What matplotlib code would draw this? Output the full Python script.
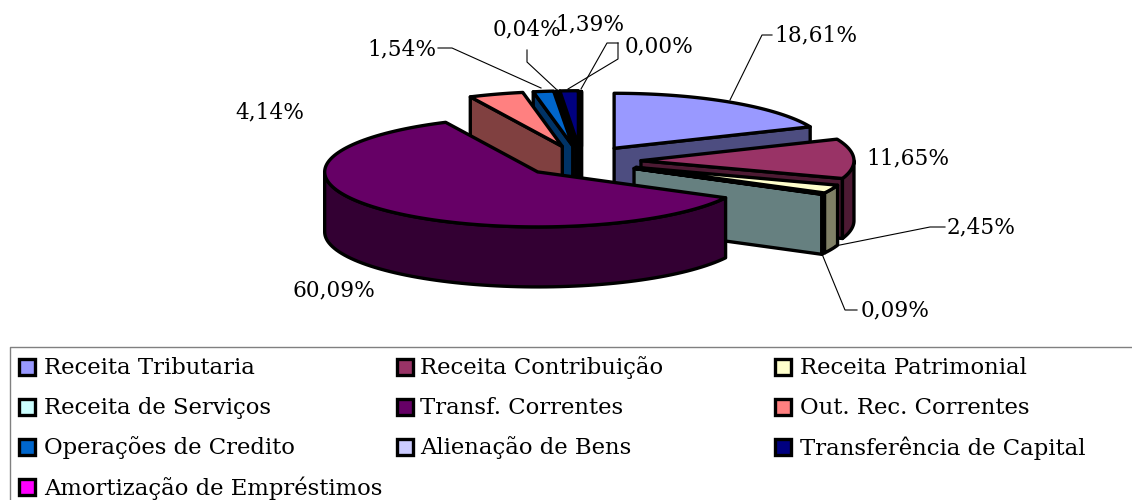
import numpy as np
import matplotlib
matplotlib.use("Agg")
import matplotlib.pyplot as plt
from matplotlib.patches import Polygon, Rectangle

categories = ["Receita Tributaria", "Receita Contribuição", "Receita Patrimonial",
              "Receita de Serviços", "Transf. Correntes", "Out. Rec. Correntes",
              "Operações de Credito", "Alienação de Bens", "Transferência de Capital",
              "Amortização de Empréstimos"]
values = [18.61, 11.65, 2.45, 0.09, 60.09, 4.14, 1.54, 0.04, 1.39, 0.00]
colors = ["#9999FF", "#993366", "#FFFFCC", "#CCFFFF", "#660066",
          "#FF8080", "#0066CC", "#CCCCFF", "#000080", "#FF00FF"]

# label centre x, y and optional leader path, by slice
label_xy = [(816, 35), (908, 158), (981, 227), (895, 310), (334, 290),
            (270, 112), (402, 49), (527, 29), (590, 24), (659, 46)]
leaders = [[(772, 35), (762, 35), (730, 100)], None,
           [(945, 227), (930, 227), (835, 246)],
           [(857, 310), (845, 310), (822, 254)], None, None,
           [(438, 48), (452, 48), (541, 88)],
           [(527, 50), (527, 62), (556, 89)],
           [(618, 43), (618, 59), (568, 89)],
           [(618, 43), (607, 43), (581, 89)]]

CX, CY = 581.0, 161.2
A, B = 213.0, 55.0
EXPLODE, DEPTH = 60.0, 60.0
LW = 2.4
FONT = "DejaVu Serif"
FS_LABEL = 15.6
FS_LEGEND = 16.4

fig = plt.figure(figsize=(11.32, 5.0), dpi=100)
ax = fig.add_axes([0, 0, 1, 1])
ax.set_xlim(0, 1132)
ax.set_ylim(500, 0)
ax.axis("off")


def shade(c):
    r, g, b = matplotlib.colors.to_rgb(c)
    return (r * 0.5, g * 0.5, b * 0.5)


vals = np.array(values)
ends = 90 - np.cumsum(vals) * 3.6
starts = ends + vals * 3.6
mids = (starts + ends) / 2
order = np.argsort(-np.sin(np.radians(mids)), kind="stable")


def poly(pts, fc, z):
    ax.add_patch(Polygon(pts, closed=True, facecolor=fc, edgecolor="black",
                         linewidth=LW, joinstyle="round", zorder=z))


for z, i in enumerate(order):
    t1, t2, m = np.radians(starts[i]), np.radians(ends[i]), np.radians(mids[i])
    ox = CX + EXPLODE * np.cos(m)
    oy = CY - EXPLODE * (B / A) * np.sin(m)
    pt = lambda t, d=0.0: (ox + A * np.cos(t), oy - B * np.sin(t) + d)
    base = z * 10
    dark = shade(colors[i])
    # outer wall: only the part of the arc on the near side (-180..0 degrees)
    lo, hi = max(t2, -np.pi), min(t1, 0.0)
    if hi > lo:
        ts = np.linspace(hi, lo, 80)
        wall = [pt(t) for t in ts] + [pt(t, DEPTH) for t in ts[::-1]]
        poly(wall, dark, base + 2)
    # cut faces
    if np.cos(t2) >= 0:
        poly([(ox, oy), pt(t2), pt(t2, DEPTH), (ox, oy + DEPTH)], dark, base + 1)
    if np.cos(t1) <= 0:
        poly([(ox, oy), pt(t1), pt(t1, DEPTH), (ox, oy + DEPTH)], dark, base + 1)
    # top
    ts = np.linspace(t1, t2, 120)
    poly([(ox, oy)] + [pt(t) for t in ts], colors[i], base + 3)

# labels and leaders
for v, (x, y), path in zip(values, label_xy, leaders):
    ax.text(x, y, f"{v:.2f}%".replace(".", ","), ha="center", va="center",
            family=FONT, fontsize=FS_LABEL, color="black", zorder=200)
    if path:
        ax.plot(*zip(*path), color="black", lw=0.8, zorder=150,
                solid_joinstyle="miter")

# legend
ax.plot([1132, 10, 10], [347, 347, 500], color="#808080", lw=1.0, zorder=190)
col_sw = [19, 397, 775]
col_tx = [44, 420, 800]
row_y = [367, 407, 447, 487]
for i, (name, c) in enumerate(zip(categories, colors)):
    r, k = divmod(i, 3)
    ax.add_patch(Rectangle((col_sw[k], row_y[r] - 8.5), 16, 16, facecolor=c,
                           edgecolor="black", linewidth=LW, zorder=200))
    ax.text(col_tx[k], row_y[r] + 1, name, ha="left", va="center",
            family=FONT, fontsize=FS_LEGEND, color="black", zorder=200)

fig.savefig("out.png", dpi=100)
